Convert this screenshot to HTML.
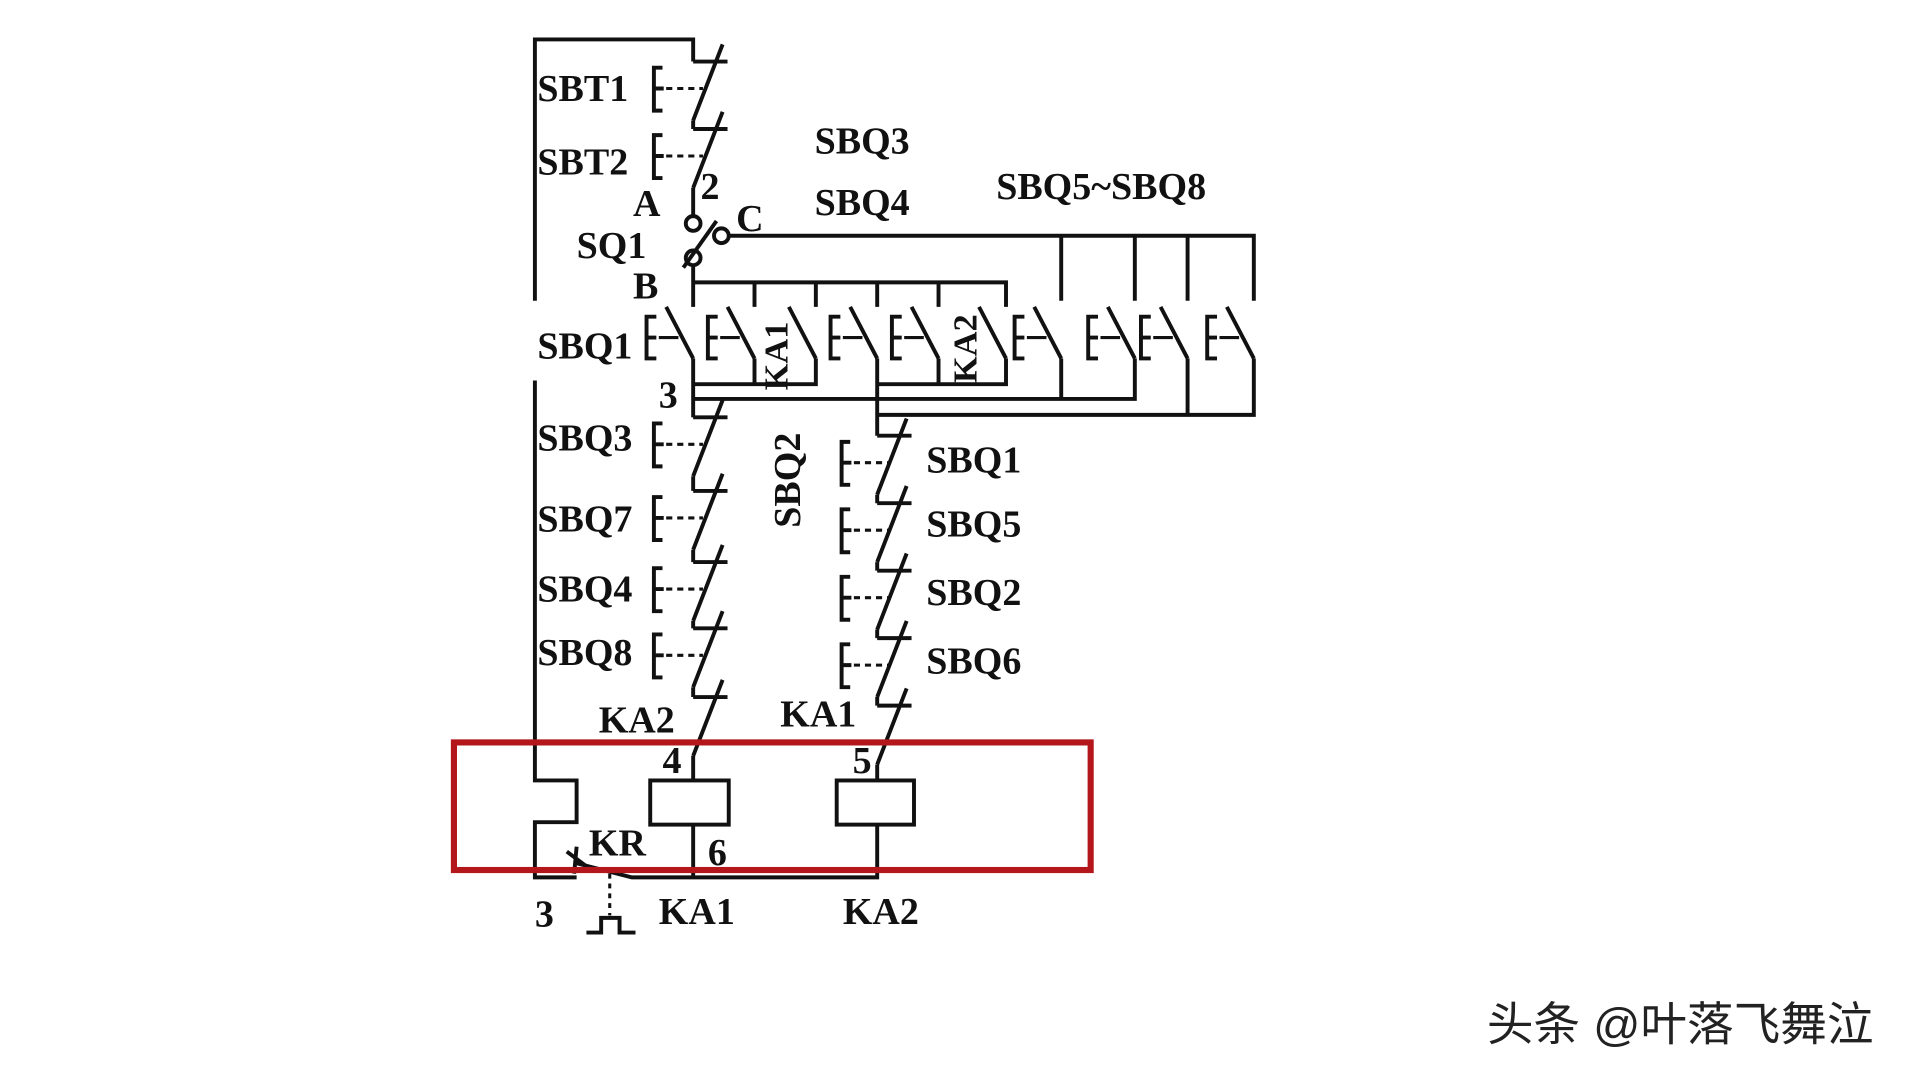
<!DOCTYPE html>
<html><head><meta charset="utf-8"><style>
html,body{margin:0;padding:0;background:#fff;}
svg{display:block}
text{font-family:"Liberation Serif",serif;font-size:31px;font-weight:bold;fill:#111;}
</style></head><body>
<svg width="1920" height="1080" viewBox="0 0 1565 880" xmlns="http://www.w3.org/2000/svg">
<defs>
<g id="nc"><path d="M0 0 H28 M24 -14 L0 48" stroke="#111" stroke-width="3.2" fill="none"/></g>
<g id="pb"><path d="M7 5 H0 V40 H7 M0 22 H8" stroke="#111" stroke-width="3.2" fill="none"/><path d="M10 22 H40" stroke="#111" stroke-width="2.5" stroke-dasharray="5 4" fill="none"/></g>
<g id="no"><path d="M-22 250 L0 292" stroke="#111" stroke-width="3.2" fill="none"/></g>
<g id="nob"><path d="M-30 258 H-38 V292 H-30 M-38 275 H-30" stroke="#111" stroke-width="3.2" fill="none"/><path d="M-28 275 H-12" stroke="#111" stroke-width="2.5" fill="none"/></g>
</defs>
<g stroke="#111" stroke-width="3.2" fill="none">
<path d="M436 245 V32 H565 V50"/>
<path d="M436 310 V636 H470 V670 H436 V715 H470"/>
<path d="M565 98 V105 M565 153 V176"/>
<path d="M565 216 V250"/>
<path d="M565 292 V340 M565 388 V400 M565 448 V458 M565 506 V512 M565 560 V568 M565 616 V636"/>
<circle cx="565" cy="182" r="6" fill="#fff"/>
<circle cx="565" cy="210" r="6" fill="#fff"/>
<circle cx="588" cy="192" r="6" fill="#fff"/>
<path d="M557 218 L584 180"/>
<path d="M594 192 H1022 V245"/>
<path d="M565 230 H820 V250 M615 230 V250 M665 230 V250 M715 230 V250 M765 230 V250"/>
<path d="M865 192 V245 M925 192 V245 M968 192 V245"/>
<path d="M615 292 V313 M665 292 V313 H565 M715 292 V355 M765 292 V313 M820 292 V313 H715"/>
<path d="M565 325 H925 V292 M865 292 V325"/>
<path d="M715 338 H1022 V292 M968 292 V338"/>
<path d="M715 403 V410 M715 458 V465 M715 513 V520 M715 568 V575 M715 623 V636"/>
<rect x="530" y="636" width="64" height="36"/>
<rect x="682" y="636" width="63" height="36"/>
<path d="M565 672 V715 M715 672 V715 H515 L468 703"/>
<path d="M462 694 L478 706 M470 690 L468 712"/>
<path d="M478 760 H490 V748 H505 V760 H518"/>
</g>
<path d="M497 712 V746" stroke="#111" stroke-width="2.5" stroke-dasharray="4 4"/>
<use href="#nc" transform="translate(565,50)"/><use href="#pb" transform="translate(533,50)"/>
<use href="#nc" transform="translate(565,105)"/><use href="#pb" transform="translate(533,105)"/>
<use href="#nc" transform="translate(565,340)"/><use href="#pb" transform="translate(533,340)"/>
<use href="#nc" transform="translate(565,400)"/><use href="#pb" transform="translate(533,400)"/>
<use href="#nc" transform="translate(565,458)"/><use href="#pb" transform="translate(533,458)"/>
<use href="#nc" transform="translate(565,512)"/><use href="#pb" transform="translate(533,512)"/>
<use href="#nc" transform="translate(565,568)"/>
<use href="#nc" transform="translate(715,355)"/><use href="#pb" transform="translate(686,355)"/>
<use href="#nc" transform="translate(715,410)"/><use href="#pb" transform="translate(686,410)"/>
<use href="#nc" transform="translate(715,465)"/><use href="#pb" transform="translate(686,465)"/>
<use href="#nc" transform="translate(715,520)"/><use href="#pb" transform="translate(686,520)"/>
<use href="#nc" transform="translate(715,575)"/>
<use href="#no" transform="translate(565,0)"/><use href="#nob" transform="translate(565,0)"/>
<use href="#no" transform="translate(615,0)"/><use href="#nob" transform="translate(615,0)"/>
<use href="#no" transform="translate(665,0)"/>
<use href="#no" transform="translate(715,0)"/><use href="#nob" transform="translate(715,0)"/>
<use href="#no" transform="translate(765,0)"/><use href="#nob" transform="translate(765,0)"/>
<use href="#no" transform="translate(820,0)"/>
<use href="#no" transform="translate(865,0)"/><use href="#nob" transform="translate(865,0)"/>
<use href="#no" transform="translate(925,0)"/><use href="#nob" transform="translate(925,0)"/>
<use href="#no" transform="translate(968,0)"/><use href="#nob" transform="translate(968,0)"/>
<use href="#no" transform="translate(1022,0)"/><use href="#nob" transform="translate(1022,0)"/>
<text x="438" y="82">SBT1</text>
<text x="438" y="142">SBT2</text>
<text x="664" y="125">SBQ3</text>
<text x="664" y="175">SBQ4</text>
<text x="812" y="162">SBQ5~SBQ8</text>
<text x="516" y="176">A</text>
<text x="571" y="162">2</text>
<text x="600" y="188">C</text>
<text x="470" y="210">SQ1</text>
<text x="516" y="243">B</text>
<text x="438" y="292">SBQ1</text>
<text x="537" y="332">3</text>
<text x="438" y="367">SBQ3</text>
<text x="438" y="433">SBQ7</text>
<text x="438" y="490">SBQ4</text>
<text x="438" y="542">SBQ8</text>
<text x="488" y="597">KA2</text>
<text x="636" y="592">KA1</text>
<text x="755" y="385">SBQ1</text>
<text x="755" y="437">SBQ5</text>
<text x="755" y="493">SBQ2</text>
<text x="755" y="549">SBQ6</text>
<text transform="translate(652,430) rotate(-90)">SBQ2</text>
<text transform="translate(642,318) rotate(-90)" style="font-size:28px">KA1</text>
<text transform="translate(796,312) rotate(-90)" style="font-size:28px">KA2</text>
<text x="540" y="630">4</text>
<text x="695" y="630">5</text>
<text x="577" y="705">6</text>
<text x="480" y="697">KR</text>
<text x="436" y="755">3</text>
<text x="537" y="753">KA1</text>
<text x="687" y="753">KA2</text>
<rect x="370" y="605" width="519" height="104" fill="none" stroke="#b3171b" stroke-width="5"/>
<text x="1212" y="848" style="font-family:'Liberation Sans','Noto Sans CJK SC',sans-serif;font-size:38px;font-weight:normal;fill:#222">头条 @叶落飞舞泣</text>
</svg>
</body></html>
